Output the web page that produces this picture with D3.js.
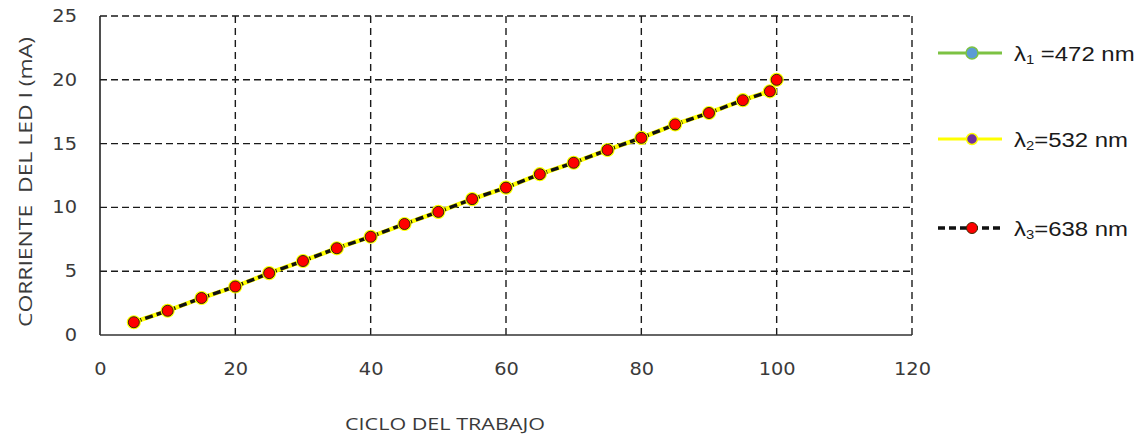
<!DOCTYPE html>
<html><head><meta charset="utf-8">
<script src="https://cdn.jsdelivr.net/npm/d3@7"></script>
<style>body{margin:0;background:#fff}svg{display:block}</style>
</head><body><svg id="c" width="1146" height="436"></svg>
<script>
const ciclo = [5,10,15,20,25,30,35,40,45,50,55,60,65,70,75,80,85,90,95,99,100];
const corriente472 = [1.0,1.9,2.9,3.8,4.85,5.8,6.8,7.7,8.7,9.65,10.65,11.55,12.6,13.5,14.5,15.45,16.5,17.4,18.4,19.1,20.0];
const corriente532 = [1.0,1.9,2.9,3.8,4.85,5.8,6.8,7.7,8.7,9.65,10.65,11.55,12.6,13.5,14.5,15.45,16.5,17.4,18.4,19.1,20.0];
const corriente638 = [1.0,1.9,2.9,3.8,4.85,5.8,6.8,7.7,8.7,9.65,10.65,11.55,12.6,13.5,14.5,15.45,16.5,17.4,18.4,19.1,20.0];
const xTicks = [0,20,40,60,80,100,120];
const yTicks = [0,5,10,15,20,25];
const legendSub = ["1","2","3"];
const legendRest = [" =472 nm","=532 nm","=638 nm"];
const xTitle = "CICLO DEL TRABAJO";
const yTitle = "CORRIENTE  DEL LED I (mA)";

const svg = d3.select("#c");
const x = d3.scaleLinear().domain([0,120]).range([100,912]);
const y = d3.scaleLinear().domain([0,25]).range([335,16]);
const SX = 1.14;

// grid
const grid = svg.append("g");
grid.selectAll("line.h").data(yTicks.filter(d=>d>0)).enter().append("line")
  .attr("x1", x(0)).attr("x2", x(120)).attr("y1", d=>y(d)).attr("y2", d=>y(d))
  .attr("stroke","#1a1a1a").attr("stroke-width",1.4).attr("stroke-dasharray","7,4");
grid.selectAll("line.v").data(xTicks.filter(d=>d>0)).enter().append("line")
  .attr("y1", y(0)).attr("y2", y(25)).attr("x1", d=>x(d)).attr("x2", d=>x(d))
  .attr("stroke","#1a1a1a").attr("stroke-width",1.4).attr("stroke-dasharray","7,5");

// axes lines
svg.append("line").attr("x1",x(0)).attr("x2",x(0)).attr("y1",y(0)).attr("y2",y(25))
  .attr("stroke","#222").attr("stroke-width",1.6);
svg.append("line").attr("x1",x(0)).attr("x2",x(120)).attr("y1",y(0)).attr("y2",y(0))
  .attr("stroke","#333").attr("stroke-width",1.6);

// tick labels
const yAx = svg.append("g").attr("transform",`translate(${x(0)},0)`)
  .call(d3.axisLeft(y).tickValues(yTicks).tickSize(0).tickPadding(0));
yAx.select(".domain").remove();
yAx.selectAll("text").attr("x",0).attr("transform",`translate(-23,0) scale(${SX},1)`)
  .attr("font-family","DejaVu Sans").attr("font-size",17).attr("fill","#3a3a3a");

const xAx = svg.append("g").attr("transform",`translate(0,${y(0)})`)
  .call(d3.axisBottom(x).tickValues(xTicks).tickSize(0).tickPadding(0));
xAx.select(".domain").remove();
xAx.selectAll("text").attr("y",0).attr("transform",`translate(0,28) scale(${SX},1)`)
  .attr("font-family","DejaVu Sans").attr("font-size",17).attr("fill","#3a3a3a");

// titles
svg.append("text").attr("x",445).attr("y",430).attr("text-anchor","middle")
  .attr("font-family","Open Sans").attr("font-size",16).attr("fill","#3a3a3a")
  .attr("textLength",200).attr("lengthAdjust","spacingAndGlyphs").text(xTitle);
svg.append("text").attr("transform","translate(32,182) rotate(-90)").attr("text-anchor","middle")
  .attr("font-family","Open Sans").attr("font-size",18).attr("fill","#3a3a3a")
  .attr("textLength",290).attr("lengthAdjust","spacingAndGlyphs").attr("xml:space","preserve").text(yTitle);

// series
const pts = (vals) => ciclo.map((c,i)=>[c, vals[i]]);
const line = d3.line().x(d=>x(d[0])).y(d=>y(d[1]));
const series = [
  {data: pts(corriente472), stroke:"#7cc243", w:3, dash:null, fill:"#5b9bd5", mstroke:"#7cc243", r:5.5, mw:1.2},
  {data: pts(corriente532), stroke:"#ffff00", w:4.5, dash:null, fill:"#7030a0", mstroke:"#ffff00", r:6.2, mw:1.8},
  {data: pts(corriente638), stroke:"#111", w:3.5, dash:"8,4", fill:"#ff0000", mstroke:"#3d2b00", r:5.5, mw:1}
];
series.forEach(s=>{
  svg.append("path").attr("d", line(s.data)).attr("fill","none")
    .attr("stroke", s.stroke).attr("stroke-width", s.w)
    .attr("stroke-dasharray", s.dash);
});
series.forEach(s=>{
  svg.append("g").selectAll("circle").data(s.data).enter().append("circle")
    .attr("cx", d=>x(d[0])).attr("cy", d=>y(d[1])).attr("r", s.r)
    .attr("fill", s.fill).attr("stroke", s.mstroke).attr("stroke-width", s.mw);
});

// legend
const ly = [53,139,228];
series.forEach((s,i)=>{
  const g = svg.append("g");
  g.append("line").attr("x1",938).attr("x2",1002).attr("y1",ly[i]).attr("y2",ly[i])
    .attr("stroke", s.stroke).attr("stroke-width", i===2?3.5:3)
    .attr("stroke-dasharray", i===2?"7,4":null);
  g.append("circle").attr("cx",972).attr("cy",ly[i]).attr("r", i===0?6:5.5)
    .attr("fill", s.fill).attr("stroke", s.mstroke).attr("stroke-width", i===2?1:1.5);
  const t = g.append("text").attr("transform",`translate(1014,${ly[i]+8}) scale(${SX},1)`)
    .attr("font-family","Liberation Sans, Arial").attr("font-size",21).attr("fill","#1a1a1a")
    .attr("xml:space","preserve");
  t.append("tspan").text("λ");
  t.append("tspan").attr("font-size",13).attr("dy",3).text(legendSub[i]);
  t.append("tspan").attr("dy",-3).text(legendRest[i]);
});
</script>
</body></html>
